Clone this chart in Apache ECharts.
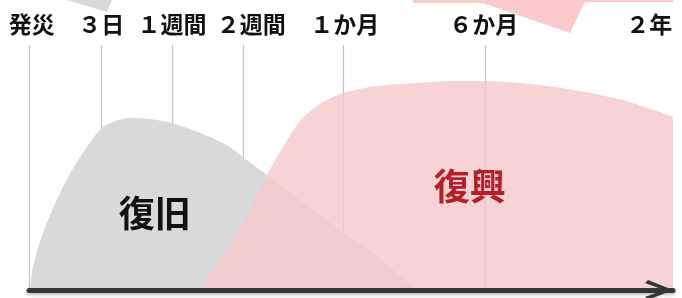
<!DOCTYPE html>
<html>
<head>
<meta charset="utf-8">
<script src="https://cdn.jsdelivr.net/npm/echarts@6/dist/echarts.min.js"></script>
<style>
html,body{margin:0;padding:0;background:#fff;}
#chart{width:682px;height:298px;}
</style>
</head>
<body>
<div id="chart"></div>
<script>
// Timeline position units: 0 = 発災, 100 = right end of the arrow
var tickLabels = ['発災', '３日', '１週間', '２週間', '１か月', '６か月', '２年'];
var tickPos    = [0.1, 11.2, 22.3, 33.2, 48.8, 70.8];          // vertical guide lines
var labelPos   = [0.5, 11.3, 22.3, 34.6, 49.1, 70.7, 96.4];    // label centres
var labelLevel = 91.4;
var guideTop   = 84.5;

// 復旧 (recovery) curve
var fukkyuX = [0.2, 0.6, 2.2, 4.3, 6.4, 9.0, 11.0, 13.0, 15.7, 18.8, 22.2, 26.6, 30.7, 33.2, 35.9, 39.4, 44.7, 48.3, 53.4, 60.2];
var fukkyuY = [0, 7.9, 19.7, 31.0, 40.3, 49.3, 55.2, 57.9, 59.3, 59.0, 57.6, 54.1, 50.0, 45.9, 41.4, 35.5, 26.6, 20.7, 12.8, 0];

// 復興 (reconstruction) curve
var fukkouX = [26.6, 28.9, 31.7, 34.6, 37.4, 40.1, 42.5, 45.7, 48.8, 53.0, 57.6, 66.5, 70.5, 77.8, 84.5, 92.2, 100];
var fukkouY = [0, 8.3, 17.2, 29.3, 41.4, 51.7, 59.3, 64.8, 67.9, 70.0, 71.0, 72.1, 72.1, 71.0, 69.0, 65.5, 59.7];

// partial shapes cut off at the top edge
var topGrayX = [5.9, 12.1, 12.9];
var topGrayY = [100, 95.9, 100];
var topPinkX = [59.6, 70.5, 84.0, 86.3, 101.4];
var topPinkY = [99.0, 99.0, 88.6, 99.3, 99.3];

var areaLabels = [
  {name: '復旧', x: 19.6, y: 26.2, color: '#111111'},
  {name: '復興', x: 68.5, y: 35.5, color: '#b81e27'}
];

function zip(xs, ys) { return xs.map(function (x, i) { return [x, ys[i]]; }); }

var chart = echarts.init(document.getElementById('chart'), null, {renderer: 'canvas'});
var font = "'Noto Sans CJK JP', 'Noto Sans', sans-serif";

chart.setOption({
  animation: false,
  backgroundColor: '#ffffff',
  grid: {left: 29, right: 9, top: 0, bottom: 8, containLabel: false},
  xAxis: {
    type: 'value', min: 0, max: 100, z: 10,
    axisLine: {
      show: true,
      symbol: ['none', 'path://M10,0 L20,25 L17,28 L10,9 L3,28 L0,25 Z'],
      symbolSize: [20, 28],
      symbolOffset: [0, -14],
      lineStyle: {color: '#363636', width: 5, shadowColor: 'rgba(0,0,0,0.25)', shadowBlur: 3, shadowOffsetY: 2}
    },
    axisTick: {show: false}, axisLabel: {show: false}, splitLine: {show: false}
  },
  yAxis: {
    type: 'value', min: 0, max: 100, show: false,
    axisLine: {show: false}, axisTick: {show: false}, axisLabel: {show: false}, splitLine: {show: false}
  },
  series: [
    {
      type: 'lines', coordinateSystem: 'cartesian2d', z: 1, silent: true,
      lineStyle: {color: '#c2c2c2', width: 1.2, opacity: 1},
      data: tickPos.map(function (p) { return {coords: [[p, 0], [p, guideTop]]}; })
    },
    {
      type: 'line', z: 2, silent: true, smooth: 0.3, showSymbol: false,
      lineStyle: {width: 0},
      areaStyle: {color: '#d9d9d9', opacity: 1},
      data: zip(fukkyuX, fukkyuY)
    },
    {
      type: 'line', z: 3, silent: true, smooth: 0.3, showSymbol: false,
      lineStyle: {width: 0},
      areaStyle: {color: 'rgba(245,200,201,0.8)', opacity: 1},
      data: zip(fukkouX, fukkouY)
    },
    {
      type: 'line', z: 3, silent: true, smooth: false, showSymbol: false, clip: false,
      lineStyle: {width: 0},
      areaStyle: {color: '#d9d9d9', opacity: 1, origin: 'end'},
      data: zip(topGrayX, topGrayY)
    },
    {
      type: 'line', z: 3, silent: true, smooth: false, showSymbol: false, clip: false,
      lineStyle: {width: 0},
      areaStyle: {color: '#fccacb', opacity: 1, origin: 'end'},
      data: zip(topPinkX, topPinkY)
    },
    {
      type: 'scatter', z: 5, silent: true, symbolSize: 1,
      itemStyle: {opacity: 0},
      label: {show: true, position: [0, 0], align: 'center', verticalAlign: 'middle',
              formatter: '{b}', color: '#111111', opacity: 1,
              fontFamily: font, fontWeight: 'bold', fontSize: 23},
      data: tickLabels.map(function (t, i) { return {name: t, value: [labelPos[i], labelLevel]}; })
    },
    {
      type: 'scatter', z: 5, silent: true, symbolSize: 1,
      itemStyle: {opacity: 0},
      label: {show: true, position: [0, 0], align: 'center', verticalAlign: 'middle',
              formatter: '{b}', opacity: 1,
              fontFamily: font, fontWeight: 'bold', fontSize: 36},
      data: areaLabels.map(function (a) {
        return {name: a.name, value: [a.x, a.y], label: {color: a.color}};
      })
    }
  ]
});
</script>
</body>
</html>
